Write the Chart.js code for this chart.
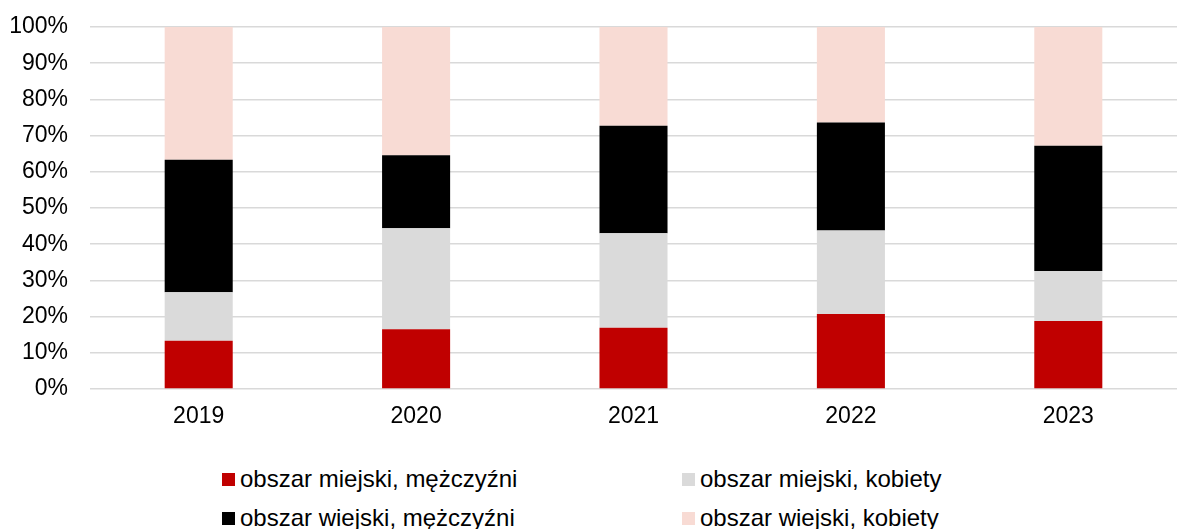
<!DOCTYPE html>
<html lang="pl">
<head>
<meta charset="utf-8">
<title>Struktura według obszaru i płci</title>
<script src="https://cdn.jsdelivr.net/npm/chart.js@4"></script>
<style>
    html, body { margin: 0; padding: 0; background: #fff; }
    #wrap { position: relative; width: 1177px; height: 529px; }
    #chartBox { position: absolute; left: 0; top: 0; width: 1177px; height: 440px; }
    .legend-item {
        position: absolute;
        display: flex;
        align-items: center;
        height: 28px;
        font-family: "Liberation Sans", Arial, sans-serif;
        font-size: 24px;
        color: #000;
        white-space: nowrap;
    }
    .legend-item span.box {
        display: inline-block;
        width: 13px;
        height: 13px;
        margin-right: 5px;
        margin-top: 1px;
    }
</style>
</head>
<body>
<div id="wrap">
    <div id="chartBox"><canvas id="barChart"></canvas></div>
    <div id="legend"></div>
</div>
<script>
'use strict';

// Data
const years = ['2019', '2020', '2021', '2022', '2023'];
const urbanMen = [13.3, 16.5, 16.9, 20.7, 18.8];
const urbanWomen = [13.4, 27.9, 26.1, 23.1, 13.8];
const ruralMen = [36.6, 20.2, 29.7, 29.8, 34.6];
const ruralWomen = [36.7, 35.4, 27.3, 26.4, 32.8];
const yTicks = [0, 10, 20, 30, 40, 50, 60, 70, 80, 90, 100];

(function () {
    // Color Variables
    const redColor = '#c00000',
        greyLightColor = '#dadada',
        blackColor = '#000000',
        pinkColor = '#f8dbd4',
        gridColor = '#d9d9d9',
        labelColor = '#000000';

    const fontFamily = '"Liberation Sans", Arial, sans-serif';

    const series = [
        { label: 'obszar miejski, mężczyźni', data: urbanMen, color: redColor },
        { label: 'obszar miejski, kobiety', data: urbanWomen, color: greyLightColor },
        { label: 'obszar wiejski, mężczyźni', data: ruralMen, color: blackColor },
        { label: 'obszar wiejski, kobiety', data: ruralWomen, color: pinkColor }
    ];

    const barChart = document.getElementById('barChart');
    new Chart(barChart, {
        type: 'bar',
        data: {
            labels: years,
            datasets: series.map(function (s) {
                return {
                    label: s.label,
                    data: s.data,
                    backgroundColor: s.color,
                    borderWidth: 0,
                    categoryPercentage: 1,
                    barPercentage: 0.313
                };
            })
        },
        options: {
            responsive: true,
            maintainAspectRatio: false,
            animation: false,
            layout: {
                padding: { top: 27, right: 0, bottom: 0, left: 0 }
            },
            plugins: {
                legend: { display: false },
                tooltip: { enabled: false }
            },
            scales: {
                x: {
                    stacked: true,
                    grid: { display: false, drawTicks: false },
                    border: { display: false },
                    ticks: {
                        color: labelColor,
                        padding: 14,
                        font: { family: fontFamily, size: 23 }
                    },
                    afterFit: function (scale) {
                        scale.height = 51;
                        scale.paddingLeft = 0;
                        scale.paddingRight = 0;
                    }
                },
                y: {
                    stacked: true,
                    min: 0,
                    max: 100,
                    afterBuildTicks: function (scale) {
                        scale.ticks = yTicks.map(function (v) { return { value: v }; });
                    },
                    grid: {
                        color: gridColor,
                        lineWidth: 1.5,
                        drawTicks: false
                    },
                    border: { display: false },
                    ticks: {
                        color: labelColor,
                        padding: 22,
                        font: { family: fontFamily, size: 23 },
                        callback: function (v) { return v + '%'; }
                    },
                    afterFit: function (scale) {
                        scale.width = 90;
                        // labels may overhang the plot edges; keep the plot box fixed
                        scale.paddingTop = 0;
                        scale.paddingBottom = 0;
                    }
                }
            }
        }
    });

    // Legend, two columns below the plot
    const legendPos = [
        { left: 222, top: 465 },
        { left: 682, top: 465 },
        { left: 222, top: 504 },
        { left: 682, top: 504 }
    ];
    const legend = document.getElementById('legend');
    series.forEach(function (s, i) {
        const item = document.createElement('div');
        item.className = 'legend-item';
        item.style.left = legendPos[i].left + 'px';
        item.style.top = legendPos[i].top + 'px';
        const box = document.createElement('span');
        box.className = 'box';
        box.style.background = s.color;
        item.appendChild(box);
        item.appendChild(document.createTextNode(s.label));
        legend.appendChild(item);
    });
})();
</script>
</body>
</html>
